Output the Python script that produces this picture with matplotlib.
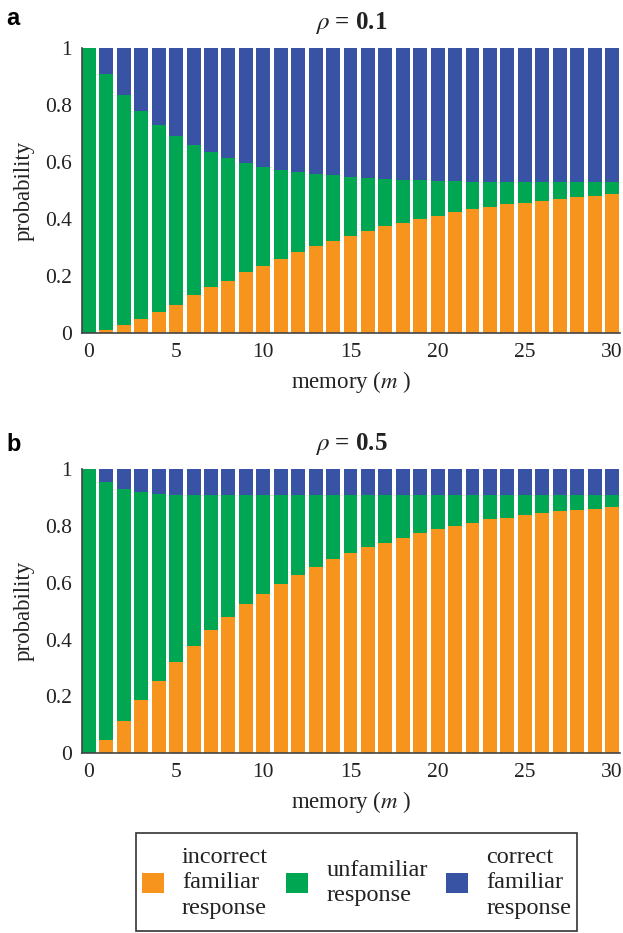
import numpy as np
import matplotlib
matplotlib.use('Agg')
import matplotlib.pyplot as plt
from matplotlib.patches import Patch, Rectangle

plt.rcParams['font.family'] = ['Liberation Serif', 'DejaVu Serif']
plt.rcParams['mathtext.fontset'] = 'stix'

m = np.arange(31)

# rho = 0.1
inc_a = [0, 0.01, 0.03, 0.05, 0.074, 0.10, 0.133, 0.16, 0.183, 0.213, 0.237,
         0.26, 0.283, 0.305, 0.324, 0.341, 0.358, 0.375, 0.385, 0.40, 0.412,
         0.425, 0.434, 0.442, 0.453, 0.456, 0.463, 0.471, 0.477, 0.481, 0.487]
top_a = [1, 0.909, 0.837, 0.779, 0.73, 0.692, 0.659, 0.634, 0.615, 0.596, 0.582,
         0.573, 0.564, 0.559, 0.554, 0.548, 0.545, 0.539, 0.538, 0.536, 0.533,
         0.532, 0.53, 0.53, 0.53, 0.53, 0.53, 0.53, 0.53, 0.53, 0.53]

# rho = 0.5
inc_b = [0, 0.047, 0.114, 0.188, 0.253, 0.321, 0.379, 0.433, 0.481, 0.525, 0.562,
         0.596, 0.627, 0.655, 0.682, 0.703, 0.726, 0.741, 0.758, 0.774, 0.789,
         0.798, 0.811, 0.824, 0.828, 0.837, 0.845, 0.852, 0.856, 0.86, 0.868]
top_b = [1, 0.954, 0.93, 0.92, 0.913] + [0.91] * 26

c_inc = '#F7941D'
c_unf = '#00A651'
c_cor = '#3953A4'

fig = plt.figure(figsize=(6.23, 9.33), dpi=100)
ax1 = fig.add_axes([0.1316, 0.643, 0.8636, 0.3055])
ax2 = fig.add_axes([0.1316, 0.1926, 0.8636, 0.3047])

for ax, inc, top, rho, lab, ly in [(ax1, inc_a, top_a, '0.1', 'a', 1.105),
                                   (ax2, inc_b, top_b, '0.5', 'b', 1.085)]:
    inc = np.array(inc)
    top = np.array(top)
    ax.bar(m, inc, width=0.8, color=c_inc, linewidth=0)
    ax.bar(m, top - inc, bottom=inc, width=0.8, color=c_unf, linewidth=0)
    ax.bar(m, 1 - top, bottom=top, width=0.8, color=c_cor, linewidth=0)
    ax.set_xlim(-0.4, 30.46)
    ax.set_ylim(0, 1)
    ax.set_xticks([0, 5, 10, 15, 20, 25, 30])
    ax.set_yticks([0, 0.2, 0.4, 0.6, 0.8, 1])
    ax.set_yticklabels(['0', '0.2', '0.4', '0.6', '0.8', '1'])
    ax.tick_params(length=0, labelsize=15.5, pad=7, colors='#222222')
    for s in ['top', 'right']:
        ax.spines[s].set_visible(False)
    for s in ['left', 'bottom']:
        ax.spines[s].set_color('#444444')
        ax.spines[s].set_linewidth(1.2)
    ax.set_ylabel('probability', fontsize=16.5, labelpad=8, color='#222222')
    ax.set_xlabel(r'memory ($m$ )', fontsize=16.5, labelpad=5, color='#222222')
    ax.set_title(r'$\rho$ = ' + rho, fontsize=18, fontweight='bold', pad=14, color='#222222')
    ax.text(-0.14, ly, lab, transform=ax.transAxes, fontsize=17, fontweight='bold',
            family='Liberation Sans', va='center', ha='left')

handles = [Patch(facecolor=c_inc), Patch(facecolor=c_unf), Patch(facecolor=c_cor)]
labels = ['incorrect\nfamiliar\nresponse', 'unfamiliar\nresponse', 'correct\nfamiliar\nresponse']
leg = fig.legend(handles, labels, ncol=3, loc='center', bbox_to_anchor=(356.5 / 623, 1 - 883 / 933),
                 fontsize=17.5, frameon=False,
                 handlelength=0.9, handleheight=0.9, handletextpad=0.75, columnspacing=0.75,
                 borderpad=0.2)
for t in leg.get_texts():
    t.set_linespacing(1.3)
    t.set_color('#222222')

# legend frame (taller than matplotlib's equal padding allows)
fig.patches.append(Rectangle((136 / 623, 1 - 931 / 933), 441 / 623, 98 / 933,
                             transform=fig.transFigure, fill=False,
                             edgecolor='#333333', linewidth=1.2))

fig.savefig('out.png', dpi=100)
